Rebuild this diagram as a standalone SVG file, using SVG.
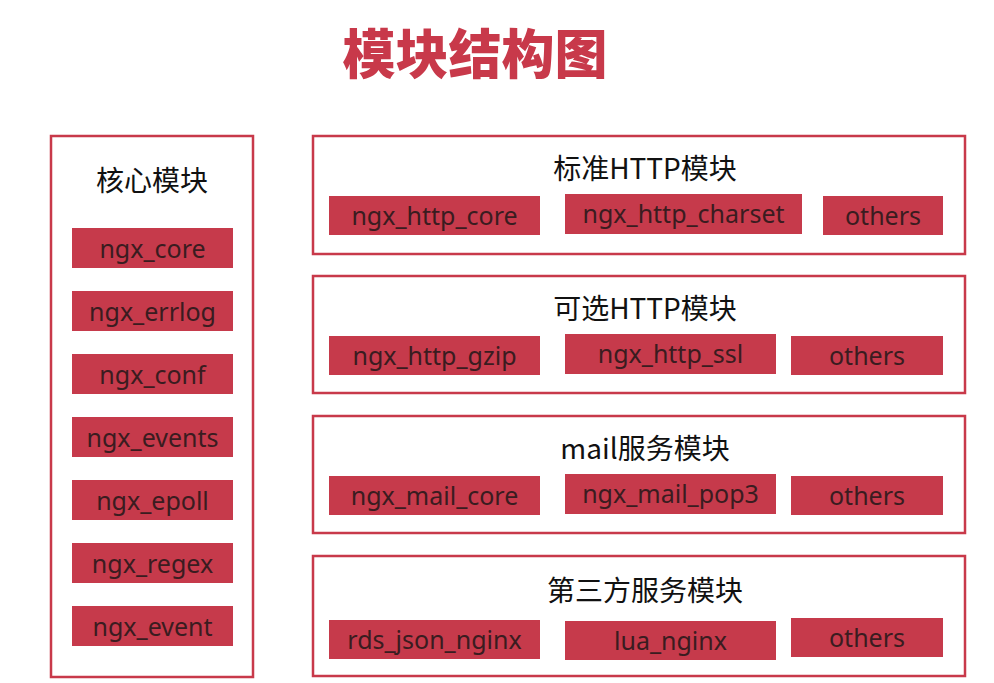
<svg xmlns="http://www.w3.org/2000/svg" width="994" height="683" viewBox="0 0 994 683">
<style>
.panel{fill:#ffffff;stroke:#c8394a;stroke-width:2.5}
.box{fill:#c63a4b}
.bt{font-family:"Noto Sans","Noto Sans CJK SC",sans-serif;font-size:25px;fill:#3a1c20;text-anchor:middle}
.pt{font-family:"Noto Sans CJK SC","Noto Sans",sans-serif;font-size:28px;fill:#111111;text-anchor:middle}
.title{font-family:"Noto Sans CJK SC",sans-serif;font-size:53px;font-weight:900;fill:#c8394a;text-anchor:middle}
</style>
<rect width="994" height="683" fill="#ffffff"/>
<text class="title" x="475" y="74">模块结构图</text>

<g id="core">
<rect class="panel" x="51" y="136" width="202" height="541"/>
<text class="pt" x="152" y="191">核心模块</text>
<rect class="box" x="72" y="228" width="161" height="40"/><text class="bt" x="152.5" y="258">ngx_core</text>
<rect class="box" x="72" y="291" width="161" height="40"/><text class="bt" x="152.5" y="321">ngx_errlog</text>
<rect class="box" x="72" y="354" width="161" height="40"/><text class="bt" x="152.5" y="384">ngx_conf</text>
<rect class="box" x="72" y="417" width="161" height="40"/><text class="bt" x="152.5" y="447">ngx_events</text>
<rect class="box" x="72" y="480" width="161" height="40"/><text class="bt" x="152.5" y="510">ngx_epoll</text>
<rect class="box" x="72" y="543" width="161" height="40"/><text class="bt" x="152.5" y="573">ngx_regex</text>
<rect class="box" x="72" y="606" width="161" height="40"/><text class="bt" x="152.5" y="636">ngx_event</text>
</g>

<g id="std-http">
<rect class="panel" x="313" y="136" width="652" height="118"/>
<text class="pt" x="645" y="179">标准HTTP模块</text>
<rect class="box" x="329" y="196" width="211" height="39"/><text class="bt" x="434.5" y="225">ngx_http_core</text>
<rect class="box" x="565" y="194" width="237" height="40"/><text class="bt" x="683.5" y="223">ngx_http_charset</text>
<rect class="box" x="823" y="196" width="120" height="39"/><text class="bt" x="883" y="225">others</text>
</g>

<g id="opt-http">
<rect class="panel" x="313" y="276" width="652" height="117"/>
<text class="pt" x="645" y="319">可选HTTP模块</text>
<rect class="box" x="329" y="336" width="211" height="39"/><text class="bt" x="434.5" y="365">ngx_http_gzip</text>
<rect class="box" x="565" y="334" width="211" height="40"/><text class="bt" x="670.5" y="363">ngx_http_ssl</text>
<rect class="box" x="791" y="336" width="152" height="39"/><text class="bt" x="867" y="365">others</text>
</g>

<g id="mail">
<rect class="panel" x="313" y="416" width="652" height="117"/>
<text class="pt" x="645" y="459">mail服务模块</text>
<rect class="box" x="329" y="476" width="211" height="39"/><text class="bt" x="434.5" y="505">ngx_mail_core</text>
<rect class="box" x="565" y="474" width="211" height="40"/><text class="bt" x="670.5" y="503">ngx_mail_pop3</text>
<rect class="box" x="791" y="476" width="152" height="39"/><text class="bt" x="867" y="505">others</text>
</g>

<g id="third-party">
<rect class="panel" x="313" y="556" width="652" height="120"/>
<text class="pt" x="645" y="601">第三方服务模块</text>
<rect class="box" x="329" y="620" width="211" height="39"/><text class="bt" x="434.5" y="649">rds_json_nginx</text>
<rect class="box" x="565" y="621" width="211" height="39"/><text class="bt" x="670.5" y="650">lua_nginx</text>
<rect class="box" x="791" y="618" width="152" height="39"/><text class="bt" x="867" y="647">others</text>
</g>

<g id="connectors"></g>
</svg>
